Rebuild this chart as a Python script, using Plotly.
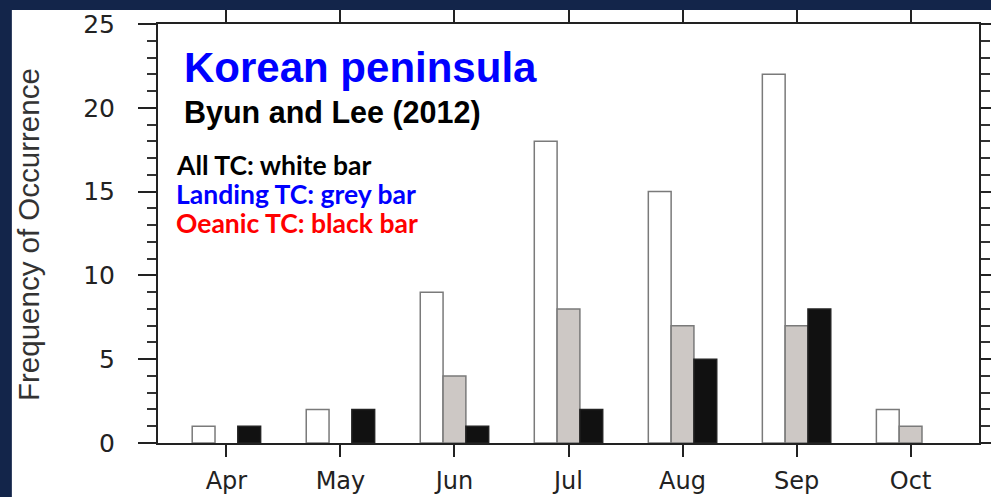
import plotly.graph_objects as go

months = ["Apr", "May", "Jun", "Jul", "Aug", "Sep", "Oct"]
all_tc = [1, 2, 9, 18, 15, 22, 2]
landing_tc = [0, 0, 4, 8, 7, 7, 1]
oceanic_tc = [1, 2, 1, 2, 5, 8, 0]
y_ticks = [0, 5, 10, 15, 20, 25]

outline = "#7a7a7a"


def line_widths(vals, w=1.5):
    return [w if v > 0 else 0 for v in vals]


fig = go.Figure()
fig.add_trace(go.Bar(x=months, y=all_tc, name="All TC",
                     marker=dict(color="#ffffff", line=dict(color=outline, width=line_widths(all_tc)))))
fig.add_trace(go.Bar(x=months, y=landing_tc, name="Landing TC",
                     marker=dict(color="#cdc8c5", line=dict(color=outline, width=line_widths(landing_tc)))))
fig.add_trace(go.Bar(x=months, y=oceanic_tc, name="Oceanic TC",
                     marker=dict(color="#111111", line=dict(color="#222222", width=line_widths(oceanic_tc)))))

fig.update_layout(
    width=991, height=497,
    margin=dict(l=158, r=12, t=24, b=54),
    paper_bgcolor="#13254a",
    plot_bgcolor="#ffffff",
    barmode="group", bargap=0.4, bargroupgap=0,
    showlegend=False,
    font=dict(family="Liberation Sans, Arial, sans-serif", color="#333333"),
)

fig.add_shape(type="rect", xref="paper", yref="paper",
              x0=-0.178, x1=1.05, y0=-0.2, y1=1.0334,
              fillcolor="#ffffff", line=dict(width=0), layer="below")

tick_font = dict(family="DejaVu Sans, sans-serif", size=25, color="#222222")

fig.update_xaxes(
    range=[-0.6, 6.6], showline=True, linecolor="#222222", linewidth=2,
    mirror="ticks", ticks="outside", ticklen=12, tickwidth=2, tickcolor="#222222",
    showgrid=False, zeroline=False, automargin=False,
    tickfont=dict(family="DejaVu Sans, sans-serif", size=24, color="#222222"), ticklabelstandoff=3,
)
fig.update_yaxes(
    range=[0, 25], tickvals=y_ticks, showline=True, linecolor="#222222", linewidth=2,
    mirror="ticks", ticks="outside", ticklen=18, tickwidth=2, tickcolor="#222222",
    minor=dict(dtick=1, ticks="outside", ticklen=9, tickwidth=1.5, tickcolor="#333333", showgrid=False),
    showgrid=False, zeroline=False, automargin=False,
    tickfont=tick_font, ticklabelstandoff=18,
)


def px_y(p):
    return (443 - p) / 419


def px_x(p):
    return (p - 158) / 821


fig.add_annotation(x=px_x(28), y=px_y(235), xref="paper", yref="paper", xanchor="center", yanchor="middle",
                   text="Frequency of Occurrence", textangle=-90, showarrow=False,
                   font=dict(family="Liberation Sans, Arial, sans-serif", size=29.5, color="#333333"))

fig.add_annotation(x=px_x(182), y=px_y(67), xref="paper", yref="paper", xanchor="left", yanchor="middle",
                   text="<b>Korean peninsula</b>", showarrow=False,
                   font=dict(family="Liberation Sans, Arial, sans-serif", size=42, color="#0000ff"))
fig.add_annotation(x=px_x(182), y=px_y(113), xref="paper", yref="paper", xanchor="left", yanchor="middle",
                   text="<b>Byun and Lee (2012)</b>", showarrow=False,
                   font=dict(family="Liberation Sans, Arial, sans-serif", size=30.5, color="#000000"))
legend_lines = [("All TC: white bar", "#000000", 165),
                ("Landing TC: grey bar", "#0000ff", 194),
                ("Oeanic TC: black bar", "#ff0000", 222.5)]
for txt, col, yp in legend_lines:
    fig.add_annotation(x=px_x(174), y=px_y(yp), xref="paper", yref="paper", xanchor="left", yanchor="middle",
                       text="<b>" + txt + "</b>", showarrow=False,
                       font=dict(family="Lato, sans-serif", size=26.5, color=col))

fig.write_html("out.html", config={"displayModeBar": False},
               post_script="document.body.style.margin='0';")
